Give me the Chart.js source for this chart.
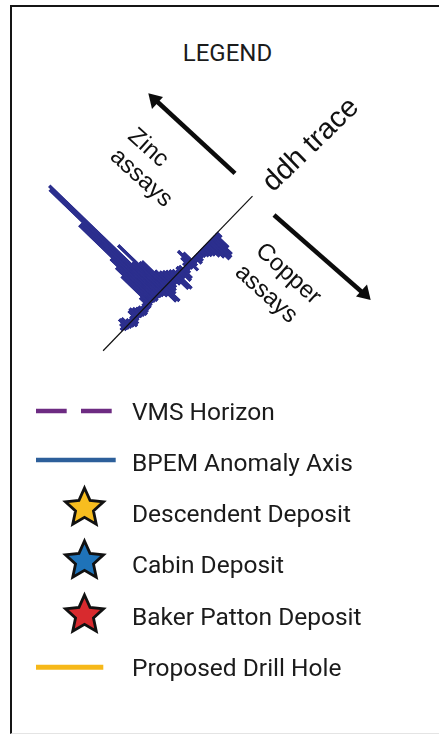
<!DOCTYPE html>
<html>
<head>
<meta charset="utf-8">
<script src="https://cdn.jsdelivr.net/npm/chart.js@4.4.1/dist/chart.umd.min.js"></script>
<style>
  html, body { margin:0; overflow:hidden; }
  body { width:439px; height:734px; background:#fff; position:relative; font-family:Roboto, "Noto Sans", sans-serif; color:#1b1b1b; }
  #frame { position:absolute; left:10px; top:5px; width:520px; height:726px; border-left:2px solid #151515; border-top:2px solid #151515; border-bottom:1px solid #e4e4e4; }
  #ddh { position:absolute; left:0; top:0; }
  .title { position:absolute; left:227.5px; top:41px; transform:translateX(-50%); font-size:24px; line-height:24px; }
  .item { position:absolute; left:132px; font-size:24.5px; line-height:24px; white-space:nowrap; }
  .diag { position:absolute; font-family:"Liberation Sans", Arial, sans-serif; white-space:nowrap; color:#111; }
  svg { position:absolute; left:0; top:0; }
</style>
</head>
<body>
<div id="frame"></div>
<div class="title">LEGEND</div>

<svg width="439" height="734">
  <!-- arrows -->
  <line x1="235" y1="173.3" x2="156" y2="100.5" stroke="#0c0c0c" stroke-width="4.5"/>
  <polygon points="148.3,93.3 163,97 152,109" fill="#0c0c0c"/>
  <line x1="274" y1="215" x2="363" y2="293" stroke="#0c0c0c" stroke-width="4.5"/>
  <polygon points="370.7,300 356,296.5 367,284.5" fill="#0c0c0c"/>
  <!-- legend symbols -->
  <line x1="36" y1="411" x2="66.7" y2="411" stroke="#6d2b82" stroke-width="4.5"/>
  <line x1="81" y1="411" x2="111.7" y2="411" stroke="#6d2b82" stroke-width="4.5"/>
  <line x1="36" y1="460" x2="115.7" y2="460" stroke="#2d5f9a" stroke-width="4.5"/>
  <g id="stars"></g>
  <line x1="36" y1="667.3" x2="103.3" y2="667.3" stroke="#f6b819" stroke-width="5"/>
</svg>

<canvas id="ddh" width="439" height="400"></canvas>

<div class="diag" style="left:310px;top:144px;font-size:29px;transform:translate(-50%,-50%) rotate(-44deg);">ddh trace</div>
<div class="diag" style="left:149px;top:147px;font-size:24px;transform:translate(-50%,-50%) rotate(42deg);">Zinc</div>
<div class="diag" style="left:142.3px;top:176.7px;font-size:24px;transform:translate(-50%,-50%) rotate(42deg);">assays</div>
<div class="diag" style="left:289px;top:273.3px;font-size:24px;transform:translate(-50%,-50%) rotate(42deg);">Copper</div>
<div class="diag" style="left:267.3px;top:293.3px;font-size:24px;transform:translate(-50%,-50%) rotate(42deg);">assays</div>

<div class="item" style="top:400px">VMS Horizon</div>
<div class="item" style="top:451px">BPEM Anomaly Axis</div>
<div class="item" style="top:502px">Descendent Deposit</div>
<div class="item" style="top:553px">Cabin Deposit</div>
<div class="item" style="top:605px">Baker Patton Deposit</div>
<div class="item" style="top:656px">Proposed Drill Hole</div>

<script>
// assay bars along the drill hole, top of hole first (one bin per sample interval)
const zincAssays = [
  0,0,0,0,0,0,0,0,0,0, 0,0,0,0,0,0,0,0,0,0,
  0,0,0,0,0,0,0,0,0,0, 0,0,0,0,0,10,15,8,3,0,
  4,5,3,6,8,10,12,14,18,34, 35,62,40,153,150,104,104,58,48,38,
  10,4,3,5,6,8,10,9,4,3, 5,9,10,6,3,0,0,0,0,0,
  0,0,0,0,0,0
];
const copperAssays = [
  0,0,0,0,0,0,0,0,0,0, 0,0,0,0,0,0,0,0,0,0,
  6,18,25,27,27,22,18,14,12,10, 8,7,9,10,6,8,12,7,6,8,
  13,14,8,20,18,9,6,8,10,12, 20,18,8,5,4,3,4,3,2,3,
  4,4,5,6,5,4,3,4,6,7, 5,4,3,2,0,0,0,0,0,0,
  0,0,0,0,0,0
];
const sampleIds = zincAssays.map((_, i) => 'S' + (i + 1));

const starColours = ['#f7bd1f', '#1f73b9', '#d82a2e'];
const starCentres = [508, 561, 615];

// legend stars
const g = document.getElementById('stars');
starCentres.forEach(function(cy, k) {
  var pts = [];
  for (var i = 0; i < 10; i++) {
    var r = i % 2 === 0 ? 20 : 9.4;
    var a = -Math.PI / 2 + i * Math.PI / 5;
    pts.push((84.5 + r * Math.cos(a)).toFixed(2) + ',' + (cy + r * Math.sin(a)).toFixed(2));
  }
  var p = document.createElementNS('http://www.w3.org/2000/svg', 'polygon');
  p.setAttribute('points', pts.join(' '));
  p.setAttribute('fill', starColours[k]);
  p.setAttribute('stroke', '#111');
  p.setAttribute('stroke-width', '2.8');
  g.appendChild(p);
});

// the histogram is laid out upright, then turned so the hole runs up to the right
const holeCentre = [177.8, 273.4];
const holeAngle = 44 * Math.PI / 180;
const barBlue = '#2c2f8e';

const tracePlugin = {
  id: 'trace',
  beforeDatasetsDraw(chart) {
    const {ctx, chartArea} = chart;
    const cx = (chartArea.left + chartArea.right) / 2;
    const cy = (chartArea.top + chartArea.bottom) / 2;
    ctx.save();
    ctx.translate(holeCentre[0], holeCentre[1]);
    ctx.rotate(holeAngle);
    ctx.translate(-cx, -cy);
  },
  afterDatasetsDraw(chart) {
    const {ctx, chartArea, scales} = chart;
    const x0 = scales.x.getPixelForValue(0);
    ctx.strokeStyle = '#111';
    ctx.lineWidth = 1.2;
    ctx.beginPath();
    ctx.moveTo(x0, chartArea.top);
    ctx.lineTo(x0, chartArea.bottom);
    ctx.stroke();
    ctx.restore();
  }
};

const barStyle = { backgroundColor: barBlue, borderColor: barBlue, borderWidth: 0.8, borderSkipped: false, inflateAmount: 0.6, clip: false, barPercentage: 1, categoryPercentage: 1 };

new Chart(document.getElementById('ddh'), {
  type: 'bar',
  data: {
    labels: sampleIds,
    datasets: [
      Object.assign({ label: 'Zinc assays', data: zincAssays.map(v => -v) }, barStyle),
      Object.assign({ label: 'Copper assays', data: copperAssays }, barStyle)
    ]
  },
  options: {
    indexAxis: 'y',
    responsive: false,
    animation: false,
    layout: { padding: { left: 60, right: 59, top: 100, bottom: 85 } },
    plugins: { legend: { display: false }, tooltip: { enabled: false } },
    scales: {
      x: { type: 'linear', min: -160, max: 160, stacked: true, display: false },
      y: { stacked: true, display: false }
    }
  },
  plugins: [tracePlugin]
});
</script>
</body>
</html>
